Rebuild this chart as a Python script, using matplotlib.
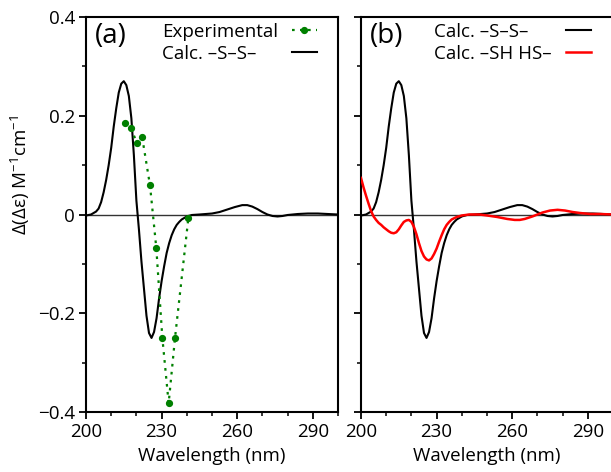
import matplotlib
matplotlib.use("Agg")
import matplotlib.pyplot as plt
from matplotlib.ticker import MultipleLocator, FixedLocator

plt.rcParams['font.family'] = ['Open Sans', 'DejaVu Sans']
plt.rcParams['mathtext.fontset'] = 'custom'
plt.rcParams['mathtext.rm'] = 'Open Sans'
plt.rcParams['mathtext.it'] = 'Open Sans:italic'
plt.rcParams['axes.unicode_minus'] = True

# ---------------- data ----------------
calc_ss_wl = [200, 202, 204, 205, 206, 207, 208, 209, 210, 211, 212, 213, 214, 215,
              216, 217, 218, 219, 220, 221, 222, 223, 224, 225, 226, 227, 228, 229,
              230, 231, 232, 233, 234, 235, 236, 237, 238, 240, 242, 245, 250, 253,
              256, 259, 262, 264, 266, 268, 270, 272, 274, 276, 278, 280, 284, 288,
              292, 296, 300]
calc_ss_val = [-0.002, 0.0, 0.006, 0.012, 0.025, 0.045, 0.07, 0.10, 0.135, 0.178, 0.215,
               0.247, 0.265, 0.27, 0.262, 0.24, 0.195, 0.12, 0.028, -0.03, -0.095, -0.15,
               -0.205, -0.24, -0.25, -0.238, -0.21, -0.17, -0.135, -0.105, -0.078, -0.058,
               -0.042, -0.030, -0.021, -0.015, -0.010, -0.004, -0.001, 0.0, 0.002, 0.005,
               0.010, 0.015, 0.019, 0.019, 0.016, 0.011, 0.005, 0.0, -0.003, -0.004,
               -0.003, -0.001, 0.001, 0.002, 0.002, 0.001, 0.0]

calc_shhs_wl = [200, 201, 202, 203, 204, 205, 206, 207, 208, 209, 210, 211, 212, 213,
                214, 215, 216, 217, 218, 219, 220, 221, 222, 223, 224, 225, 226, 227,
                228, 229, 230, 231, 232, 233, 234, 235, 236, 238, 240, 243, 247, 250,
                254, 258, 261, 263, 265, 268, 270, 272, 275, 278, 281, 284, 287, 291,
                295, 300]
calc_shhs_val = [0.074, 0.055, 0.038, 0.022, 0.007, -0.004, -0.011, -0.017, -0.021,
                 -0.026, -0.030, -0.034, -0.037, -0.038, -0.036, -0.030, -0.022, -0.015,
                 -0.012, -0.011, -0.015, -0.025, -0.040, -0.058, -0.074, -0.085, -0.091,
                 -0.093, -0.089, -0.080, -0.069, -0.055, -0.042, -0.030, -0.021, -0.015,
                 -0.010, -0.005, -0.002, 0.0, 0.0, -0.002, -0.005, -0.009, -0.011, -0.011,
                 -0.009, -0.004, 0.0, 0.004, 0.008, 0.0095, 0.008, 0.005, 0.003, 0.001,
                 0.001, 0.0]

exp_wl = [215.4, 217.8, 220.3, 222.3, 225.4, 227.9, 230.3, 232.8, 235.3, 240.6]
exp_val = [0.185, 0.175, 0.144, 0.156, 0.059, -0.068, -0.250, -0.382, -0.251, -0.008]

x_major = [200, 230, 260, 290]
x_labels = ['200', '230', '260', '290']
y_major = [-0.4, -0.2, 0.0, 0.2, 0.4]
y_labels = ['\u22120.4', '\u22120.2', '0', '0.2', '0.4']

label_exp = 'Experimental'
label_ss = 'Calc. \u2013S\u2013S\u2013'
label_shhs = 'Calc. \u2013SH HS\u2013'
ylabel = '\u0394(\u0394\u03b5) M$^{-1}$cm$^{-1}$'
xlabel = 'Wavelength (nm)'

# ---------------- figure ----------------
W, H = 611, 472
fig = plt.figure(figsize=(W / 100, H / 100), dpi=100)
axw = 252 / W
axh = 395 / H
ax1 = fig.add_axes([86 / W, (472 - 412) / H, axw, axh])
ax2 = fig.add_axes([361 / W, (472 - 412) / H, axw, axh])

FS = 13.5


def style(ax, show_ylabels):
    ax.set_xlim(200, 300)
    ax.set_ylim(-0.4, 0.4)
    ax.axhline(0, color='0.2', lw=1.0, zorder=1)
    ax.xaxis.set_major_locator(FixedLocator(x_major))
    ax.set_xticklabels(x_labels)
    ax.xaxis.set_minor_locator(MultipleLocator(10))
    ax.yaxis.set_major_locator(FixedLocator(y_major))
    if show_ylabels:
        ax.set_yticklabels(y_labels)
    else:
        ax.set_yticklabels([])
    ax.yaxis.set_minor_locator(MultipleLocator(0.1))
    ax.tick_params(which='major', direction='out', length=5, width=1.3,
                   labelsize=FS, pad=3)
    ax.tick_params(which='minor', direction='out', length=3, width=1.1)
    for s in ax.spines.values():
        s.set_linewidth(1.5)
    ax.set_xlabel(xlabel, fontsize=FS, labelpad=4)


def fix_legend(fig, leg):
    fig.canvas.draw()
    r = fig.canvas.get_renderer()
    col = leg._legend_handle_box.get_children()[0]
    rows = col.get_children()
    widths = [row.get_children()[0].get_bbox(r).width for row in rows]
    mw = max(widths)
    for row, w in zip(rows, widths):
        row.sep = row.sep + (mw - w) * 72.0 / fig.dpi


# panel (a)
style(ax1, True)
l_exp, = ax1.plot(exp_wl, exp_val, linestyle=(0, (1.2, 2.4)), color='#008000', lw=1.6,
                  marker='o', markersize=4.2, label=label_exp, zorder=3)
l_ss1, = ax1.plot(calc_ss_wl, calc_ss_val, color='black', lw=1.5, label=label_ss, zorder=2)
ax1.set_ylabel(ylabel, fontsize=FS)
ax1.yaxis.set_label_coords(-0.215, 0.6)
ax1.text(0.035, 0.951, '(a)', transform=ax1.transAxes, fontsize=20, ha='left', va='center')
leg1 = ax1.legend(handles=[l_exp, l_ss1], loc='upper right', bbox_to_anchor=(0.917, 0.985),
                  frameon=False, markerfirst=False, fontsize=FS, handlelength=1.35,
                  handletextpad=0.75, labelspacing=0.22, borderpad=0, borderaxespad=0,
                  numpoints=1)

# panel (b)
style(ax2, False)
l_ss2, = ax2.plot(calc_ss_wl, calc_ss_val, color='black', lw=1.5, label=label_ss, zorder=2)
l_sh, = ax2.plot(calc_shhs_wl, calc_shhs_val, color='#ff0000', lw=1.8, label=label_shhs, zorder=3)
ax2.text(0.035, 0.951, '(b)', transform=ax2.transAxes, fontsize=20, ha='left', va='center')
leg2 = ax2.legend(handles=[l_ss2, l_sh], loc='upper right', bbox_to_anchor=(0.914, 0.985),
                  frameon=False, markerfirst=False, fontsize=FS, handlelength=1.35,
                  handletextpad=0.75, labelspacing=0.22, borderpad=0, borderaxespad=0)

fix_legend(fig, leg1)
fix_legend(fig, leg2)

fig.savefig('out.png', dpi=100)
